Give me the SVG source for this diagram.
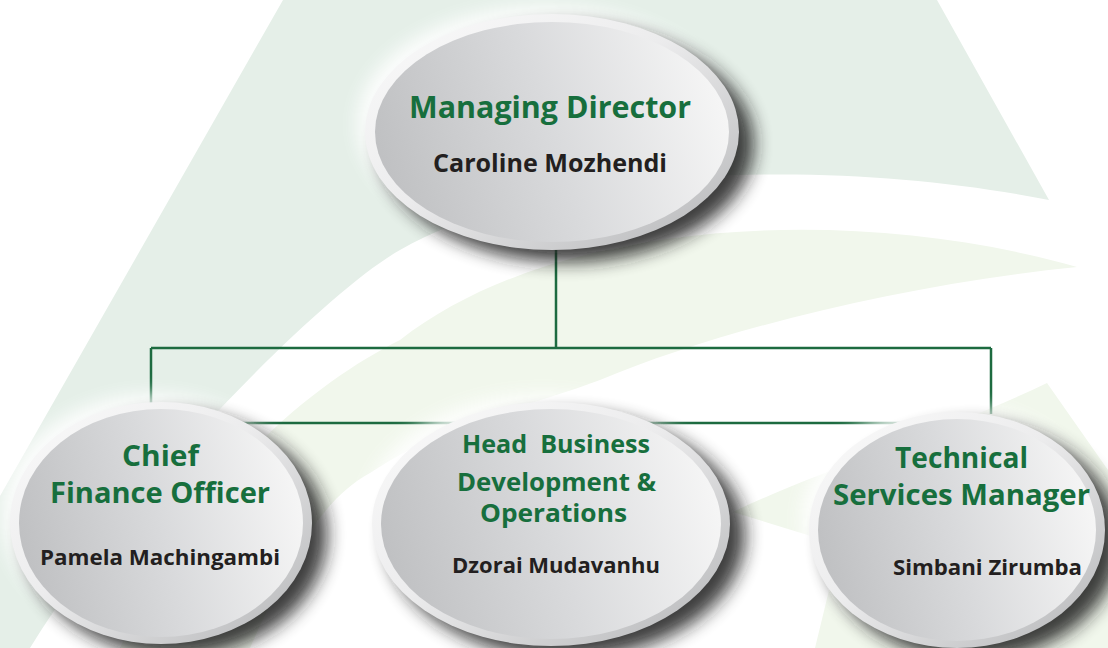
<svg xmlns="http://www.w3.org/2000/svg" width="1108" height="648" viewBox="0 0 1108 648">
<defs>
<linearGradient id="rim" x1="0" y1="0" x2="1" y2="1">
<stop offset="0" stop-color="#fbfbfb"/><stop offset="0.45" stop-color="#ececed"/><stop offset="1" stop-color="#b3b4b6"/>
</linearGradient>
<linearGradient id="face" x1="0" y1="0.6" x2="1" y2="0.4">
<stop offset="0" stop-color="#bfc0c2"/><stop offset="0.5" stop-color="#d9dadc"/><stop offset="1" stop-color="#f6f6f6"/>
</linearGradient>
<filter id="blur" x="-30%" y="-30%" width="160%" height="160%"><feGaussianBlur stdDeviation="9"/></filter>
</defs>
<style>
.title{font-family:"Open Sans","Noto Sans","Liberation Sans",sans-serif;font-weight:700;fill:#176f3d;text-anchor:middle}
.name{font-family:"Open Sans","Noto Sans","Liberation Sans",sans-serif;font-weight:700;fill:#231f20;text-anchor:middle}
.link{fill:none;stroke:#1d6b40;stroke-width:2.5}
.shadow{fill:#1e1e1e;opacity:.85;filter:url(#blur)}
.glow{fill:#ffffff;opacity:.9;filter:url(#blur)}
.rim{fill:url(#rim)}
.face{fill:url(#face)}
</style>
<rect width="1108" height="648" fill="#ffffff"/>
<g id="background">
<path d="M283,0 L937,0 L1049,200 C850,160 560,160 400,250 C320,295 120,500 30,648 L0,648 L0,496 Z" fill="#e5efe8"/>
<path d="M1077,267 C860,205 560,215 400,340 C320,380 200,470 120,648 L250,648 C290,560 320,500 370,473 C450,420 520,410 600,380 C720,330 900,285 1077,267 Z" fill="#f1f7ec"/>
<path d="M1047,383 C950,430 820,470 733,512 L840,545 L815,648 L1108,648 L1108,470 Z" fill="#f1f7ec"/>
</g>
<g id="connectors">
<path class="link" d="M556,250 V348 M151,348 H991 M151,348 V404 M991,348 V414 M200,423 H940"/>
</g>
<g id="node-md">
<ellipse class="glow" cx="544" cy="124" rx="187" ry="118"/>
<ellipse class="shadow" cx="567" cy="144" rx="187" ry="118"/>
<ellipse class="rim" cx="552" cy="132" rx="187" ry="118"/>
<ellipse class="face" cx="552" cy="132" rx="177" ry="110"/>
<text class="title" x="550" y="118" font-size="29.5" textLength="282" lengthAdjust="spacingAndGlyphs">Managing Director</text>
<text class="name" x="550" y="172" font-size="24.5" textLength="234" lengthAdjust="spacingAndGlyphs">Caroline Mozhendi</text>
</g>
<g id="node-cfo">
<ellipse class="glow" cx="153" cy="515" rx="151" ry="121"/>
<ellipse class="shadow" cx="176" cy="535" rx="151" ry="121"/>
<ellipse class="rim" cx="161" cy="523" rx="151" ry="121"/>
<ellipse class="face" cx="161" cy="523" rx="142" ry="114"/>
<text class="title" x="160.5" y="466" font-size="28" textLength="77" lengthAdjust="spacingAndGlyphs">Chief</text>
<text class="title" x="160" y="503" font-size="28" textLength="220" lengthAdjust="spacingAndGlyphs">Finance Officer</text>
<text class="name" x="160" y="565" font-size="22" textLength="240" lengthAdjust="spacingAndGlyphs">Pamela Machingambi</text>
</g>
<g id="node-hbd">
<ellipse class="glow" cx="543" cy="516" rx="179" ry="122"/>
<ellipse class="shadow" cx="566" cy="536" rx="179" ry="122"/>
<ellipse class="rim" cx="551" cy="524" rx="179" ry="122"/>
<ellipse class="face" cx="551" cy="524" rx="170" ry="115"/>
<text class="title" x="556" y="453" font-size="25" textLength="188" lengthAdjust="spacingAndGlyphs" xml:space="preserve">Head  Business</text>
<text class="title" x="556.5" y="491" font-size="25" textLength="199" lengthAdjust="spacingAndGlyphs">Development &amp;</text>
<text class="title" x="553.5" y="522" font-size="25.5" textLength="147" lengthAdjust="spacingAndGlyphs">Operations</text>
<text class="name" x="556" y="573" font-size="22" textLength="208" lengthAdjust="spacingAndGlyphs">Dzorai Mudavanhu</text>
</g>
<g id="node-tsm">
<ellipse class="glow" cx="949" cy="522" rx="148" ry="118"/>
<ellipse class="shadow" cx="972" cy="542" rx="148" ry="118"/>
<ellipse class="rim" cx="957" cy="530" rx="148" ry="118"/>
<ellipse class="face" cx="957" cy="530" rx="139" ry="111"/>
<text class="title" x="961.5" y="468" font-size="29" textLength="133" lengthAdjust="spacingAndGlyphs">Technical</text>
<text class="title" x="961.5" y="505" font-size="29" textLength="257" lengthAdjust="spacingAndGlyphs">Services Manager</text>
<text class="name" x="987.5" y="575" font-size="22" textLength="189" lengthAdjust="spacingAndGlyphs">Simbani Zirumba</text>
</g>
</svg>
